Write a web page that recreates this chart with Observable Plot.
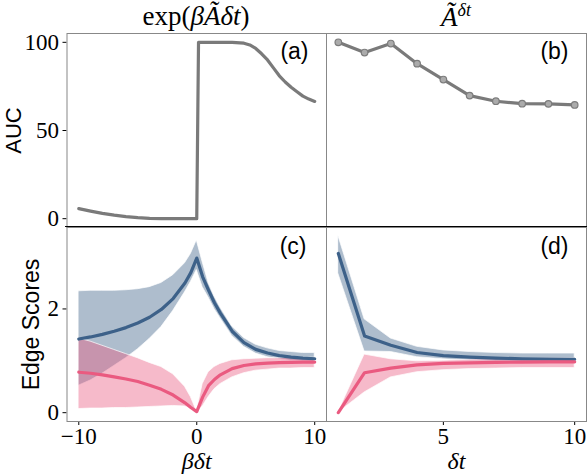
<!DOCTYPE html>
<html><head><meta charset="utf-8">
<script src="https://cdn.jsdelivr.net/npm/d3@7"></script>
<script src="https://cdn.jsdelivr.net/npm/@observablehq/plot@0.6"></script>
<style>
body{margin:0;background:#fff}
#fig{position:relative;width:588px;height:476px;overflow:hidden;background:#fff}
.panel{position:absolute}
.title{position:absolute;font-family:"Liberation Serif",serif;font-size:27px;color:#000;white-space:nowrap;transform:translateX(-50%);line-height:1}
.sep{position:absolute;left:65px;width:522px;top:226px;height:1px;background:#000}
</style></head><body>
<div id="fig"></div>
<script>
// ---- Panel (a): AUC vs beta*dt for exp(beta A dt)
const aX = [-10,-9,-8,-7,-6,-5,-4,-3,-2,-1,0,0.15,1,2,3,4,4.5,5,5.5,6,6.5,7,7.5,8,8.5,9,9.5,10];
const aY = [5.7,4.3,3.0,2.0,1.2,0.6,0.2,0.05,0,0,0,100,100,100,100,99.5,98.5,96.5,93.5,90,85.5,81,77.5,74.5,72,69.5,67.8,66.5];
// ---- Panel (b): AUC vs dt for A^dt
const bX = [1,2,3,4,5,6,7,8,9,10];
const bY = [100,94.2,99.3,87.9,78.9,69.8,66.6,65.2,65.1,64.5];
// ---- Panel (c): edge scores vs beta*dt
const cX      = [-10,-9,-8,-7,-6,-5,-4,-3,-2,-1,-0.5,0,0.5,1,1.5,2,3,4,5,6,7,8,9,10];
const cBlue   = [1.42,1.46,1.51,1.57,1.64,1.73,1.84,1.99,2.20,2.50,2.70,2.98,2.62,2.36,2.12,1.92,1.57,1.35,1.22,1.15,1.10,1.07,1.05,1.04];
const cBlueHi = [2.34,2.35,2.35,2.35,2.36,2.38,2.42,2.50,2.65,2.88,3.06,3.32,2.90,2.50,2.24,2.03,1.66,1.44,1.31,1.24,1.19,1.17,1.15,1.15];
const cBlueLo = [0.52,0.62,0.75,0.90,1.05,1.22,1.42,1.65,1.96,2.32,2.52,2.75,2.42,2.22,2.00,1.82,1.48,1.27,1.14,1.07,1.03,1.00,0.99,0.98];
const cPink   = [0.78,0.76,0.73,0.69,0.65,0.60,0.53,0.45,0.34,0.19,0.10,0.02,0.30,0.52,0.64,0.73,0.85,0.91,0.94,0.955,0.965,0.97,0.975,0.975];
const cPinkHi = [1.43,1.37,1.29,1.21,1.13,1.05,0.96,0.88,0.74,0.50,0.30,0.03,0.55,0.78,0.88,0.94,1.01,1.03,1.04,1.05,1.05,1.06,1.06,1.06];
const cPinkLo = [0.07,0.08,0.08,0.09,0.09,0.10,0.11,0.12,0.13,0.12,0.08,0.00,0.12,0.30,0.45,0.55,0.68,0.76,0.81,0.83,0.85,0.85,0.86,0.86];
// ---- Panel (d): edge scores vs dt
const dX      = [1,2,3,4,5,6,7,8,9,10];
const dBlue   = [3.07,1.48,1.30,1.16,1.10,1.07,1.05,1.04,1.035,1.03];
const dBlueHi = [3.41,1.80,1.43,1.27,1.20,1.17,1.15,1.14,1.14,1.14];
const dBlueLo = [2.68,1.18,1.17,1.07,1.03,1.00,0.99,0.98,0.98,0.98];
const dPink   = [0.00,0.77,0.86,0.92,0.95,0.96,0.97,0.975,0.98,0.98];
const dPinkHi = [0.01,1.12,1.03,0.99,1.00,1.02,1.03,1.04,1.05,1.05];
const dPinkLo = [0.00,0.39,0.68,0.78,0.82,0.84,0.85,0.86,0.86,0.86];
// ---- tick labels / text
const auTicks = [0,50,100];
const esTicks = [0,2];
const xTicksC = [-10,0,10];
const xTicksD = [5,10];
const panelLabels = ["(a)","(b)","(c)","(d)"];

const GRAY = "#7a7a7a", BLUE = "#3d6189", PINK = "#ea5a80";
const SERIF = "'Liberation Serif', serif", SANS = "'Liberation Sans', Arial, sans-serif";
const fig = document.getElementById("fig");

function place(svg, left, top) {
  const d = document.createElement("div");
  d.className = "panel"; d.style.left = left + "px"; d.style.top = top + "px";
  d.appendChild(svg); fig.appendChild(d);
}
const fmt = d => (d < 0 ? "\u2212" : "") + Math.abs(d);
const baseStyle = {fontFamily: SERIF, fontSize: "23px", background: "transparent", color: "#000", overflow: "visible"};
const lbl = (t, dx, dy) => Plot.text([t], {frameAnchor: "top-right", dx, dy, textAnchor: "end", lineAnchor: "top", fontFamily: SANS, fontSize: 23});
const ylab = (t, dx, fs) => Plot.text([t], {frameAnchor: "left", dx, rotate: -90, textAnchor: "middle", lineAnchor: "middle", fontFamily: SANS, fontSize: fs});
const xlab = (t) => Plot.text([t], {frameAnchor: "bottom", dy: 40, textAnchor: "middle", lineAnchor: "middle", fontStyle: "italic", fontSize: 24});

// (a)
const A = aX.map((x, i) => ({x, y: aY[i]}));
place(Plot.plot({
  width: 326, height: 227, marginLeft: 66.5, marginRight: 0, marginTop: 33, marginBottom: 0,
  style: baseStyle,
  x: {domain: [-11, 11], axis: null},
  y: {domain: [-5, 105], axis: null},
  marks: [
    Plot.line(A, {x: "x", y: "y", stroke: GRAY, strokeWidth: 3.2}),
    Plot.axisY({ticks: auTicks, tickFormat: fmt, tickSize: 4, tickPadding: 4, label: null}),
    Plot.frame({stroke: "#888"}),
    lbl(panelLabels[0], -18, 9),
    ylab("AUC", -53, 22)
  ]
}), 0, 0);

// (b)
const B = bX.map((x, i) => ({x, y: bY[i]}));
place(Plot.plot({
  width: 262, height: 227, marginLeft: 0, marginRight: 2, marginTop: 33, marginBottom: 0,
  style: baseStyle,
  x: {domain: [0.55, 10.45], axis: null},
  y: {domain: [-5, 105], axis: null},
  marks: [
    Plot.line(B, {x: "x", y: "y", stroke: GRAY, strokeWidth: 3.2}),
    Plot.dot(B, {x: "x", y: "y", r: 3.3, fill: "#ababab", stroke: "#7c7c7c", strokeWidth: 1.2}),
    Plot.frame({stroke: "#888"}),
    lbl(panelLabels[1], -18, 9)
  ]
}), 326, 0);

// (c)
const C = cX.map((x, i) => ({x, b: cBlue[i], bh: cBlueHi[i], bl: cBlueLo[i], p: cPink[i], ph: cPinkHi[i], pl: cPinkLo[i]}));
place(Plot.plot({
  width: 326, height: 249, marginLeft: 66.5, marginRight: 0, marginTop: 0, marginBottom: 55,
  style: baseStyle,
  x: {domain: [-11, 11], axis: null},
  y: {domain: [-0.17, 3.57], axis: null},
  marks: [
    Plot.areaY(C, {x: "x", y1: "bl", y2: "bh", fill: BLUE, fillOpacity: 0.42, stroke: "white", strokeOpacity: 0.7, strokeWidth: 1}),
    Plot.areaY(C, {x: "x", y1: "pl", y2: "ph", fill: PINK, fillOpacity: 0.42, stroke: "white", strokeOpacity: 0.7, strokeWidth: 1}),
    Plot.line(C, {x: "x", y: "b", stroke: BLUE, strokeWidth: 3.2}),
    Plot.line(C, {x: "x", y: "p", stroke: PINK, strokeWidth: 3.2}),
    Plot.axisY({ticks: esTicks, tickFormat: fmt, tickSize: 4, tickPadding: 4, label: null}),
    Plot.axisX({ticks: xTicksC, tickFormat: fmt, tickSize: 4, tickPadding: 2, label: null}),
    Plot.frame({stroke: "#888"}),
    lbl(panelLabels[2], -20, 10),
    ylab("Edge Scores", -35, 23),
    xlab("βδt")
  ]
}), 0, 227);

// (d)
const D = dX.map((x, i) => ({x, b: dBlue[i], bh: dBlueHi[i], bl: dBlueLo[i], p: dPink[i], ph: dPinkHi[i], pl: dPinkLo[i]}));
place(Plot.plot({
  width: 262, height: 249, marginLeft: 0, marginRight: 2, marginTop: 0, marginBottom: 55,
  style: baseStyle,
  x: {domain: [0.55, 10.45], axis: null},
  y: {domain: [-0.17, 3.57], axis: null},
  marks: [
    Plot.areaY(D, {x: "x", y1: "bl", y2: "bh", fill: BLUE, fillOpacity: 0.42, stroke: "white", strokeOpacity: 0.7, strokeWidth: 1}),
    Plot.areaY(D, {x: "x", y1: "pl", y2: "ph", fill: PINK, fillOpacity: 0.42, stroke: "white", strokeOpacity: 0.7, strokeWidth: 1}),
    Plot.line(D, {x: "x", y: "b", stroke: BLUE, strokeWidth: 3.2}),
    Plot.line(D, {x: "x", y: "p", stroke: PINK, strokeWidth: 3.2}),
    Plot.axisX({ticks: xTicksD, tickFormat: fmt, tickSize: 4, tickPadding: 2, label: null}),
    Plot.frame({stroke: "#888"}),
    lbl(panelLabels[3], -18, 10),
    xlab("δt")
  ]
}), 326, 227);

// separator between top and bottom rows
const sep = document.createElement("div"); sep.className = "sep"; fig.appendChild(sep);

// column titles
const t1 = document.createElement("div"); t1.className = "title";
t1.style.left = "196px"; t1.style.top = "3px";
t1.innerHTML = "exp(<i>βÃδt</i>)";
const t2 = document.createElement("div"); t2.className = "title";
t2.style.left = "456px"; t2.style.top = "4px";
t2.innerHTML = "<i>Ã</i><span style=\"font-size:18px;position:relative;top:-10px;font-style:italic\">δt</span>";
fig.appendChild(t1); fig.appendChild(t2);
</script>
</body></html>
